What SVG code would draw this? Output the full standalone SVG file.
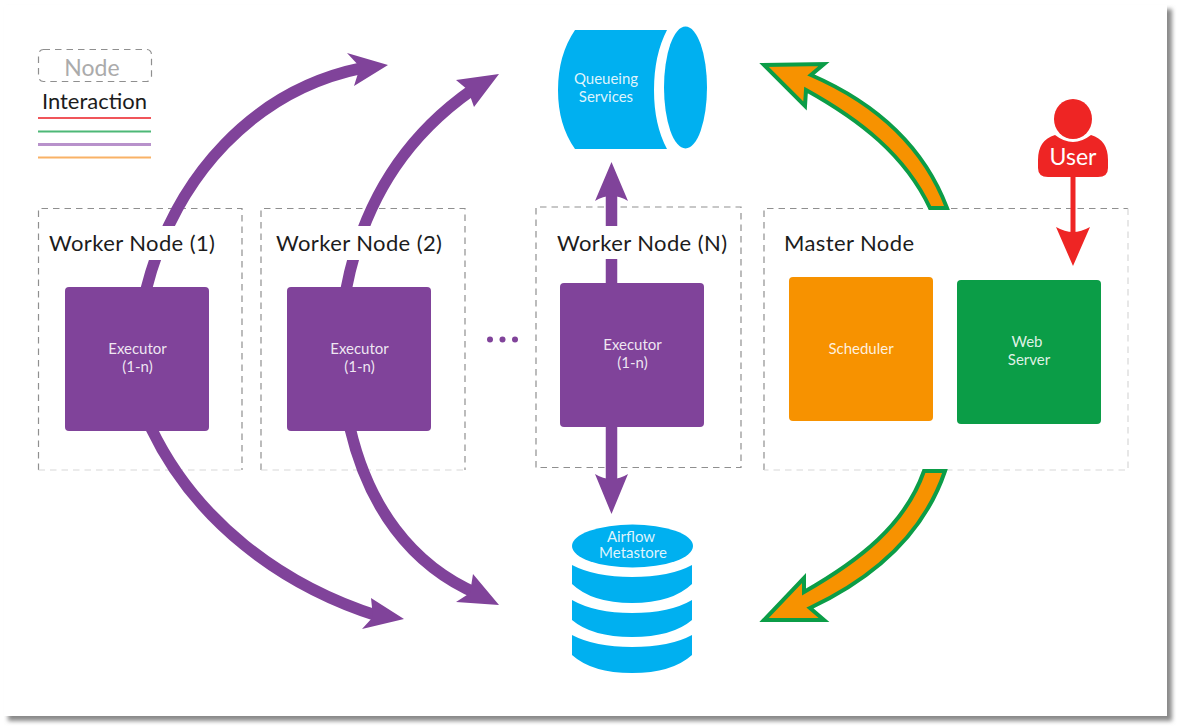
<svg xmlns="http://www.w3.org/2000/svg" width="1179" height="727" viewBox="0 0 1179 727">
<defs>
<filter id="sh" x="-5%" y="-5%" width="110%" height="110%"><feGaussianBlur stdDeviation="2.2"/></filter>
</defs>
<style>
text{font-family:"Lato","Liberation Sans",sans-serif}
.dash{fill:none;stroke:#8f8f8f;stroke-width:1.2;stroke-dasharray:6.5 5}
.dashl{fill:none;stroke:#d8d8d8;stroke-width:1.2;stroke-dasharray:6.5 5}
.lbl{font-size:22px;fill:#1c1c1c;letter-spacing:.4px}
.in{font-size:15px;fill:#fff;fill-opacity:.88;text-anchor:middle}
.p{fill:none;stroke:#80439A;stroke-width:11.5}
.pf{fill:#80439A}
.o{fill:#F79200;stroke:#0B9D47;stroke-width:4;stroke-linejoin:miter}
.c{fill:#00B0F0}
.cover{fill:#fff}
</style>
<rect x="8" y="9" width="1164" height="712" fill="#8a8a8a" filter="url(#sh)"/>
<rect x="4" y="5" width="1163" height="711" fill="#fff"/>

<g id="legend">
<rect x="38.500" y="49.500" width="113" height="32" rx="5" class="dash"/>
<text x="92" y="76" font-size="23" fill="#ababab" text-anchor="middle">Node</text>
<text x="94.500" y="109" font-size="22" fill="#1c1c1c" text-anchor="middle">Interaction</text>
<line x1="38" y1="118" x2="151" y2="118" stroke="#F0555A" stroke-width="2"/>
<line x1="38" y1="131.500" x2="151" y2="131.500" stroke="#4DB877" stroke-width="2"/>
<line x1="38" y1="144.500" x2="151" y2="144.500" stroke="#B892CB" stroke-width="3"/>
<line x1="38" y1="157.500" x2="151" y2="157.500" stroke="#F9B266" stroke-width="2"/>
</g>

<g id="frames">
<path class="dash" d="M38.500 470V208.500H242V470"/><path class="dashl" d="M38.500 470H242"/>
<path class="dash" d="M261 470V208.500H465V470"/><path class="dashl" d="M261 470H465"/>
<path class="dash" d="M536 467.500V207H741V467.500H536"/>
<path class="dash" d="M764 470V208.500H1128"/><path class="dashl" d="M1128 208.500V470H764"/>
</g>

<g id="connectors">
<path class="p" d="M146 290C175 175 255 90 362 68"/>
<path class="pf" d="M388 65L347 53L360 67L354 86Z"/>
<path class="p" d="M346 290C365 190 415 130 472 90"/>
<path class="pf" d="M499 74L456 80L468 90L474 107Z"/>
<path class="p" d="M151 428C195 520 280 585 378 616"/>
<path class="pf" d="M404 619L371 598L373 617L362 629Z"/>
<path class="p" d="M350 428C368 505 410 565 478 594"/>
<path class="pf" d="M499 605L473 574L470 593L456 602Z"/>
<path class="p" d="M611.500 285V190"/>
<path class="pf" d="M611.500 162L628 201Q620 196 611.500 196Q603 196 595 201Z"/>
<path class="p" d="M611.500 425V490"/>
<path class="pf" d="M611.500 514L628 474Q620 479 611.500 479Q603 479 595 474Z"/>
<rect class="cover" x="100" y="226" width="130" height="34"/>
<rect class="cover" x="320" y="226" width="100" height="34"/>
<rect class="cover" x="590" y="226" width="44" height="33"/>
<path class="o" d="M947 208C925 150 880 105 811 75L824 64L764 65L805 106L806 90C860 120 905 155 930 208Z"/>
<path class="o" d="M945 471C925 530 880 575 810 608L824 620L764 620L804 578L804 592C860 560 905 525 924 471Z"/>
<path d="M1073 172V232" stroke="#EE2524" stroke-width="5" fill="none"/>
<path d="M1073 266L1090 227Q1081 232 1073 232Q1065 232 1056 227Z" fill="#EE2524"/>
</g>

<g id="queue">
<path class="c" d="M575 30H667Q654 55 654 90Q654 125 667 149H575Q558 125 558 90Q558 55 575 30Z"/>
<ellipse class="c" cx="685.500" cy="87.500" rx="21.500" ry="61"/>
<text class="in" x="606" y="84">Queueing</text>
<text class="in" x="606" y="102">Services</text>
</g>

<g id="metastore">
<ellipse class="c" cx="632.500" cy="546" rx="60.500" ry="21.500"/>
<path class="c" d="M572 565Q595 577 632 577Q670 577 692 565V584Q672 603 632 603Q592 603 572 584Z"/>
<path class="c" d="M572 600Q595 613 632 613Q670 613 692 600V620Q672 637 632 637Q592 637 572 620Z"/>
<path class="c" d="M572 635Q595 647 632 647Q670 647 692 635V655Q672 673 632 673Q592 673 572 655Z"/>
<text class="in" x="631" y="542">Airflow</text>
<text class="in" x="633" y="558">Metastore</text>
</g>

<g id="worker1">
<text class="lbl" x="49" y="251">Worker Node (1)</text>
<rect x="65" y="287" width="144" height="144" rx="4" class="pf"/>
<text class="in" x="137.500" y="354">Executor</text><text class="in" x="137.500" y="372">(1-n)</text>
</g>
<g id="worker2">
<text class="lbl" x="276" y="251">Worker Node (2)</text>
<rect x="287" y="287" width="144" height="144" rx="4" class="pf"/>
<text class="in" x="359.500" y="354">Executor</text><text class="in" x="359.500" y="372">(1-n)</text>
</g>
<g id="workerN">
<text class="lbl" x="557" y="251">Worker Node (N)</text>
<rect x="560" y="283" width="144" height="144" rx="4" class="pf"/>
<text class="in" x="632.500" y="350">Executor</text><text class="in" x="632.500" y="368">(1-n)</text>
</g>
<g id="master">
<text class="lbl" x="784" y="251">Master Node</text>
<rect x="789" y="277" width="144" height="144" rx="4" fill="#F79200"/>
<text class="in" x="861" y="354">Scheduler</text>
<rect x="957" y="280" width="144" height="144" rx="4" fill="#0B9D47"/>
<text class="in" x="1027" y="347">Web</text><text class="in" x="1029" y="365">Server</text>
</g>

<g id="user">
<ellipse cx="1073" cy="119" rx="19" ry="20" fill="#EE2524"/>
<path d="M1055 135Q1064 142 1073 142Q1082 142 1091 135Q1108 140 1108 160V168Q1108 177 1098 177H1048Q1038 177 1038 168V160Q1038 140 1055 135Z" fill="#EE2524"/>
<text x="1073" y="165" font-size="23" fill="#fff" text-anchor="middle">User</text>
</g>

<g id="ellipsis" fill="#80439A">
<circle cx="490" cy="339.500" r="3"/><circle cx="502.500" cy="339.500" r="3"/><circle cx="515" cy="339.500" r="3"/>
</g>
</svg>
